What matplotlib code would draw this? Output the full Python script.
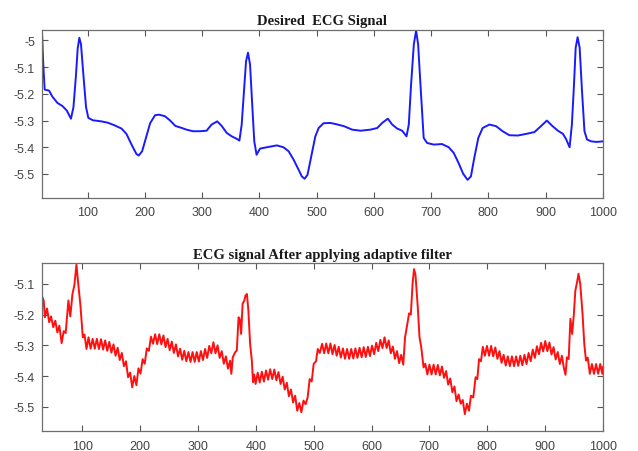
import matplotlib
matplotlib.use("Agg")
import matplotlib.pyplot as plt

plt.rcParams['axes.unicode_minus'] = False

# ---- Desired ECG (top, blue) ----
blue_x = [20, 22, 24.7, 32.4, 38, 47, 56, 63.5, 70.6, 75, 79.4, 82.4, 85.3, 88.2, 92.4, 97, 101,
          109, 123.5, 135, 147, 159, 167.6, 176.5, 185, 189, 195, 201, 209, 217.6, 224.7, 235,
          244, 253, 264.7, 272.5, 284, 296, 307.6, 316.4, 326.3, 334, 342.7, 351.5, 360, 365,
          369, 373, 376.6, 380, 383.6, 387.7, 391, 395, 401, 412.9, 430.4, 442, 451, 459.6,
          468.4, 474, 479, 484, 490, 497.7, 503.5, 512, 524, 533, 547.7, 562, 576.7, 594,
          605.8, 614.5, 624.4, 632, 640.7, 649.4, 657, 661, 665, 669.8, 673.8, 677.3, 681.4,
          687, 693, 704.7, 719, 730.8, 739.5, 748, 756, 763.7, 769.6, 775.4, 782.5, 790,
          801.8, 813.5, 825, 836.8, 851.5, 866, 880.7, 892.4, 902.3, 911.7, 921.6, 930.4,
          936, 942, 946, 949.7, 952.6, 956, 959.6, 963.7, 968, 972.5, 980, 989, 1000]
blue_y = [-4.965, -5.08, -5.184, -5.188, -5.21, -5.234, -5.246, -5.263, -5.293, -5.25, -5.13,
          -5.03, -4.99, -5.015, -5.13, -5.25, -5.29, -5.299, -5.303, -5.308, -5.318, -5.33,
          -5.35, -5.39, -5.425, -5.431, -5.415, -5.37, -5.31, -5.28, -5.278, -5.284, -5.30,
          -5.32, -5.328, -5.334, -5.34, -5.34, -5.338, -5.315, -5.303, -5.32, -5.346, -5.359,
          -5.368, -5.375, -5.315, -5.19, -5.078, -5.046, -5.09, -5.253, -5.378, -5.428,
          -5.405, -5.40, -5.393, -5.40, -5.415, -5.446, -5.484, -5.509, -5.518, -5.503,
          -5.44, -5.359, -5.328, -5.31, -5.309, -5.313, -5.321, -5.334, -5.338, -5.334,
          -5.328, -5.309, -5.293, -5.315, -5.33, -5.338, -5.359, -5.315, -5.165, -5.015,
          -4.963, -5.015, -5.165, -5.365, -5.384, -5.39, -5.388, -5.40, -5.421, -5.459,
          -5.499, -5.522, -5.509, -5.44, -5.365, -5.328, -5.315, -5.321, -5.34, -5.355,
          -5.356, -5.35, -5.343, -5.32, -5.30, -5.32, -5.338, -5.35, -5.37, -5.40, -5.315,
          -5.165, -5.028, -4.988, -5.028, -5.19, -5.34, -5.371, -5.378, -5.38, -5.378]

# ---- ECG after adaptive filter (bottom, red) ----
red_x = [30, 33, 35, 38.7, 42.5, 45.7, 49.5, 53, 56.6, 60, 64, 67.6, 71, 75.7, 79, 82.7, 86,
         89.6, 93, 96.5, 100.6, 103.5, 107, 110.5,
         114.1, 117.7, 121.3, 124.9, 128.5, 132.1, 135.7, 139.3, 142.9, 146.5, 150.1, 153.7,
         157.3, 160.9, 164.5, 168.1, 171.7, 175.3, 178.9, 182.5, 186.1, 189.7, 193.3, 196.9,
         200.5, 204.1, 207.7, 211.3, 214.9, 218.5, 222.1, 225.7,
         229.3, 232.9, 236.5, 240.1, 243.7, 247.3, 250.9, 254.5, 258.1, 261.7, 265.3, 268.9,
         272.5, 276.1, 279.7, 283.3, 286.9, 290.5, 294.1, 297.7, 301.3, 304.9, 308.5, 312.1,
         315.7, 319.3, 322.9, 326.5, 330.1, 333.7, 337.3, 340.9, 344.5, 348.1, 351.7, 355.3,
         357.5,
         360, 364, 367, 370, 372, 374.5, 377, 380, 382, 384.5, 387, 390, 393, 395, 397, 399.5,
         403.1, 406.7, 410.3, 413.9, 417.5, 421.1, 424.7, 428.3, 431.9, 435.5, 439.1, 442.7,
         446.3, 449.9, 453.5, 457.1, 460.7, 464.3, 467.9, 471.5, 475.1, 478.7, 482.3, 485.9,
         489.5,
         493, 496.5, 500, 504, 507, 510.5, 514.5,
         518.1, 521.7, 525.3, 528.9, 532.5, 536.1, 539.7, 543.3, 546.9, 550.5, 554.1, 557.7,
         561.3, 564.9, 568.5, 572.1, 575.7, 579.3, 582.9, 586.5, 590.1, 593.7, 597.3, 600.9,
         604.5, 608.1, 611.7, 615.3, 618.9, 622.5, 626.1, 629.7, 633.3, 636.9, 640.5, 644.1,
         647.7, 651.3, 654.9,
         658, 662, 665, 668, 671, 673.5, 676, 680, 683, 686, 690, 693,
         696.6, 700.2, 703.8, 707.4, 711, 714.6, 718.2, 721.8, 725.4, 729, 732.6, 736.2,
         739.8, 743.4, 747, 750.6, 754.2, 757.8, 761.4, 765, 768.6, 772, 776, 780, 783, 786,
         789.3, 792.5,
         796.1, 799.7, 803.3, 806.9, 810.5, 814.1, 817.7, 821.3, 824.9, 828.5, 832.1, 835.7,
         839.3, 842.9, 846.5, 850.1, 853.7, 857.3, 860.9, 864.5, 868.1, 871.7, 875.3, 878.9,
         882.5, 886.1, 889.7, 893.3, 896.9, 900.5, 904.1, 907.7, 911.3, 914.9, 918.5, 922.1,
         925.7, 929.3, 932.9, 935.5,
         938, 941, 944, 947, 950, 952.5, 955.5, 958, 961, 965, 968, 971, 974,
         977.6, 981.2, 984.8, 988.4, 992, 995.6, 999.2, 1000.5]
red_y = [-5.14, -5.155, -5.209, -5.18, -5.225, -5.206, -5.241, -5.22, -5.258, -5.236, -5.293,
         -5.254, -5.26, -5.154, -5.206, -5.133, -5.105, -5.037, -5.105, -5.17, -5.274, -5.265,
         -5.312, -5.274,
         -5.311, -5.279, -5.311, -5.279, -5.312, -5.280, -5.314, -5.284, -5.318, -5.289,
         -5.324, -5.297, -5.334, -5.308, -5.348, -5.325, -5.368, -5.352, -5.404, -5.389,
         -5.437, -5.400, -5.430, -5.375, -5.392, -5.345, -5.36, -5.31, -5.318, -5.272,
         -5.295, -5.264,
         -5.296, -5.264, -5.297, -5.268, -5.306, -5.279, -5.316, -5.288, -5.325, -5.297,
         -5.336, -5.311, -5.347, -5.318, -5.352, -5.322, -5.354, -5.322, -5.354, -5.322,
         -5.353, -5.319, -5.348, -5.312, -5.341, -5.302, -5.326, -5.29, -5.326, -5.30,
         -5.341, -5.319, -5.36, -5.336, -5.376, -5.35, -5.393,
         -5.339, -5.323, -5.317, -5.209, -5.214, -5.263, -5.165, -5.154, -5.138, -5.133,
         -5.187, -5.296, -5.35, -5.42, -5.395, -5.426,
         -5.389, -5.421, -5.386, -5.418, -5.382, -5.412, -5.378, -5.41, -5.379, -5.414,
         -5.387, -5.426, -5.402, -5.444, -5.422, -5.466, -5.444, -5.486, -5.464, -5.513,
         -5.488, -5.518, -5.48, -5.492, -5.47,
         -5.41, -5.418, -5.36, -5.352, -5.312, -5.325, -5.295,
         -5.326, -5.294, -5.326, -5.294, -5.329, -5.299, -5.334, -5.305, -5.34, -5.31,
         -5.344, -5.312, -5.344, -5.312, -5.343, -5.31, -5.341, -5.308, -5.339, -5.306,
         -5.338, -5.305, -5.335, -5.301, -5.329, -5.292, -5.319, -5.282, -5.309, -5.274,
         -5.309, -5.284, -5.326, -5.304, -5.344, -5.319, -5.358, -5.331, -5.363,
         -5.274, -5.23, -5.196, -5.2, -5.1, -5.052, -5.07, -5.176, -5.274, -5.306, -5.372,
         -5.36,
         -5.395, -5.363, -5.395, -5.363, -5.395, -5.364, -5.398, -5.369, -5.406, -5.384,
         -5.428, -5.408, -5.453, -5.434, -5.482, -5.46, -5.49, -5.478, -5.524, -5.49,
         -5.513, -5.464, -5.47, -5.404, -5.41, -5.345, -5.352, -5.305,
         -5.334, -5.302, -5.334, -5.302, -5.336, -5.307, -5.344, -5.319, -5.357, -5.331,
         -5.366, -5.336, -5.368, -5.336, -5.368, -5.336, -5.367, -5.334, -5.365, -5.331,
         -5.361, -5.325, -5.352, -5.314, -5.341, -5.303, -5.329, -5.292, -5.32, -5.286,
         -5.319, -5.291, -5.33, -5.306, -5.346, -5.322, -5.361, -5.334, -5.376, -5.396,
         -5.339, -5.345, -5.214, -5.263, -5.198, -5.122, -5.095, -5.067, -5.1, -5.198,
         -5.296, -5.35, -5.34,
         -5.393, -5.361, -5.393, -5.361, -5.393, -5.361, -5.393, -5.37]

titles = ["Desired  ECG Signal", "ECG signal After applying adaptive filter"]
x_ticks = [100, 200, 300, 400, 500, 600, 700, 800, 900, 1000]
top_yticks = [-5.5, -5.4, -5.3, -5.2, -5.1, -5.0]
top_ylabels = ["-5.5", "-5.4", "-5.3", "-5.2", "-5.1", "-5"]
bot_yticks = [-5.5, -5.4, -5.3, -5.2, -5.1]
bot_ylabels = ["-5.5", "-5.4", "-5.3", "-5.2", "-5.1"]

fig = plt.figure(figsize=(6.38, 4.52), dpi=100)
ax1 = fig.add_axes([0.0658, 0.5597, 0.879, 0.3723])
ax2 = fig.add_axes([0.0658, 0.0436, 0.879, 0.3717])

ax1.plot(blue_x, blue_y, color='#1a1aff', linewidth=1.4)
ax2.plot(red_x, red_y, color='#ff1010', linewidth=1.4)

ax1.set_xlim(20, 1000)
ax1.set_ylim(-5.59, -4.96)
ax2.set_xlim(30, 1000)
ax2.set_ylim(-5.58, -5.033)

ax1.set_yticks(top_yticks)
ax1.set_yticklabels(top_ylabels)
ax2.set_yticks(bot_yticks)
ax2.set_yticklabels(bot_ylabels)

for ax, t in zip((ax1, ax2), titles):
    ax.set_xticks(x_ticks)
    ax.set_xticklabels([str(v) for v in x_ticks])
    ax.set_title(t, fontfamily='Liberation Serif', fontweight='bold', fontsize=10.5,
                 pad=4, color='#1a1a1a')
    ax.tick_params(direction='in', top=True, right=True, length=4, width=0.8,
                   colors='#555555', labelcolor='#444444', labelsize=9)
    ax.tick_params(axis='x', pad=6)
    ax.tick_params(axis='y', pad=5)
    for lab in ax.get_xticklabels() + ax.get_yticklabels():
        lab.set_fontfamily('Liberation Sans')
    for s in ax.spines.values():
        s.set_color('#6e6e6e')
        s.set_linewidth(0.9)

fig.savefig("out.png", dpi=100)
